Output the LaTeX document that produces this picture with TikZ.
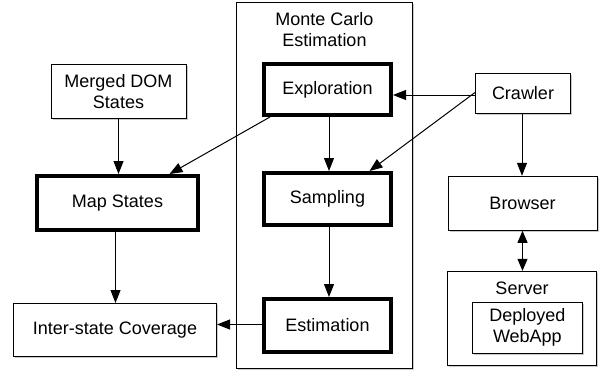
\documentclass[tikz,border=0pt]{standalone}
\usepackage{fontspec}
\setmainfont{Liberation Sans}
\usetikzlibrary{arrows.meta,shadows}
\begin{document}
\begin{tikzpicture}[x=1pt,y=-1pt,
  font=\fontsize{18}{20.5}\selectfont,
  shad/.style={drop shadow={shadow xshift=1.5pt,shadow yshift=-1.5pt,opacity=0.35,fill=black!60}},
  thinbox/.style={draw,line width=1pt,fill=white,shad,align=center,inner sep=0pt},
  thickbox/.style={draw,line width=4pt,fill=white,shad,align=center,inner sep=0pt},
  arr/.style={line width=1pt,-{Triangle[length=13pt,width=10pt]}},
  darr/.style={line width=1pt,{Triangle[length=12pt,width=10pt]}-{Triangle[length=12pt,width=10pt]}}
]
\useasboundingbox (0,0) rectangle (602,372);
% container
\node[thinbox,minimum width=176pt,minimum height=366pt] (mc) at (324.75,185) {};
\node[align=center] (mclabel) at (324.5,29.5) {Monte Carlo\\Estimation};
% Monte Carlo steps
\node[thickbox,minimum width=127pt,minimum height=51pt] (expl) at (327.5,89.5) {Exploration};
\node[thickbox,minimum width=127pt,minimum height=52pt] (samp) at (327.5,199) {Sampling};
\node[thickbox,minimum width=127pt,minimum height=53pt] (est) at (327.5,325.5) {Estimation};
% left
\node[thinbox,minimum width=135pt,minimum height=54pt] (merged) at (118.5,91.5) {Merged DOM\\States};
\node[thickbox,minimum width=161pt,minimum height=54pt] (map) at (117.5,203) {Map States};
\node[thinbox,minimum width=203pt,minimum height=53pt] (inter) at (115,330) {Inter-state Coverage};
% right
\node[thinbox,minimum width=95pt,minimum height=40pt] (crawler) at (523,93.5) {Crawler};
\node[thinbox,minimum width=149pt,minimum height=54pt] (browser) at (522.5,203.3) {Browser};
\node[thinbox,minimum width=149pt,minimum height=94pt] (server) at (522.3,318.3) {};
\node (serverlabel) at (522,288) {Server};
\node[thinbox,minimum width=110pt,minimum height=51pt] (webapp) at (527.4,327.5) {Deployed\\WebApp};
% connectors
\draw[arr] (merged.south) -- (merged.south |- map.north);
\draw[arr] ([xshift=8pt]expl.south west) -- ([xshift=52pt]map.north);
\draw[arr] ([xshift=1.5pt]expl.south) -- ([xshift=1.5pt]samp.north);
\draw[arr] ([xshift=1.5pt]samp.south) -- ([xshift=1.5pt]est.north);
\draw[arr] ([xshift=-2pt]map.south) -- ([xshift=0.5pt]inter.north);
\draw[arr] ([yshift=1pt]est.west) -- ([yshift=1pt]est.west -| inter.east);
\draw[arr] ([yshift=-1.5pt]crawler.west) -- ([yshift=-1.5pt]crawler.west -| expl.east);
\draw[arr] ([yshift=1pt]crawler.west) -- ([xshift=42pt]samp.north);
\draw[arr] ([xshift=-1pt]crawler.south) -- ([xshift=-1pt]crawler.south |- browser.north);
\draw[darr] (browser.south) -- (browser.south |- server.north);
\end{tikzpicture}
\end{document}
